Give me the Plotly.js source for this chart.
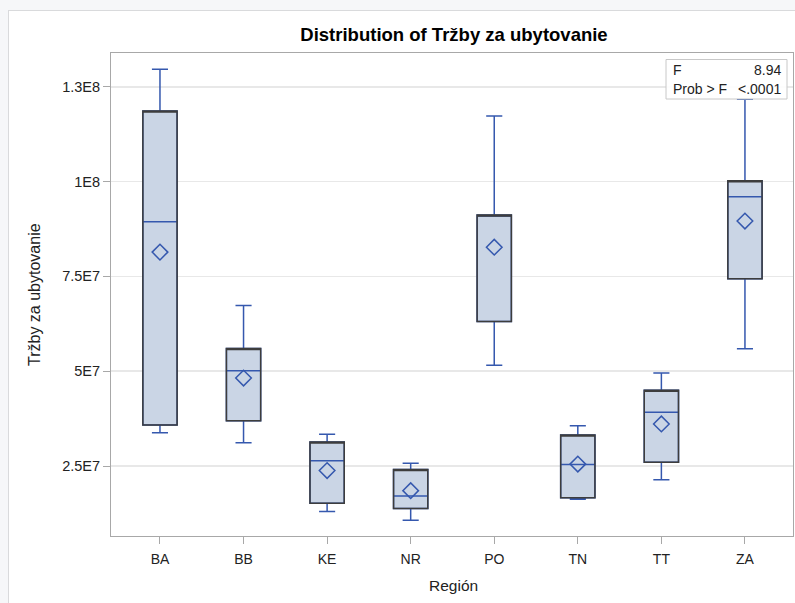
<!DOCTYPE html>
<html>
<head>
<meta charset="utf-8">
<script src="https://cdn.plot.ly/plotly-3.0.1.min.js"></script>
<style>
  html, body { margin: 0; padding: 0; background: #f6f7f9; }
  #panel { position: absolute; left: 8px; top: 10px; width: 787px; height: 593px; background: #ffffff; border-left: 1px solid #d9dadc; border-top: 1px solid #d9dadc; }
  #chart { position: absolute; left: 0; top: 0; width: 795px; height: 603px; }
</style>
</head>
<body>
<div id="panel"></div>
<div id="chart"></div>
<script>
// Data
const regions = ["BA", "BB", "KE", "NR", "PO", "TN", "TT", "ZA"];
const whiskerLow = [3.38e7, 3.11e7, 1.30e7, 1.07e7, 5.16e7, 1.62e7, 2.14e7, 5.59e7];
const q1Values = [3.58e7, 3.69e7, 1.52e7, 1.38e7, 6.31e7, 1.66e7, 2.60e7, 7.44e7];
const medianValues = [8.94e7, 5.01e7, 2.64e7, 1.71e7, 9.10e7, 2.54e7, 3.92e7, 9.60e7];
const q3Values = [1.186e8, 5.60e7, 3.13e7, 2.41e7, 9.12e7, 3.32e7, 4.50e7, 1.002e8];
const whiskerHigh = [1.296e8, 6.73e7, 3.34e7, 2.57e7, 1.173e8, 3.56e7, 4.95e7, 1.217e8];
const meanValues = [8.14e7, 4.82e7, 2.38e7, 1.85e7, 8.27e7, 2.55e7, 3.61e7, 8.96e7];

const yTickVals = [2.5e7, 5e7, 7.5e7, 1e8, 1.25e8];
const yTickText = ["2.5E7", "5E7", "7.5E7", "1E8", "1.3E8"];

const statLabels = ["F", "Prob > F"];
const statValues = ["8.94", "<.0001"];

const blue = "#3558ae";
const dark = "#3d3d3d";
const fill = "#cad5e5";

const traces = [
  {
    type: "box",
    x: regions,
    q1: q1Values,
    median: medianValues,
    q3: q3Values,
    lowerfence: whiskerLow,
    upperfence: whiskerHigh,
    fillcolor: fill,
    line: { color: blue, width: 1.5 },
    width: 0.41,
    whiskerwidth: 0.47,
    boxpoints: false,
    hoverinfo: "skip",
    showlegend: false
  },
  {
    type: "box",
    x: regions,
    q1: q1Values,
    median: q3Values,
    q3: q3Values,
    lowerfence: q1Values,
    upperfence: q3Values,
    fillcolor: "rgba(0,0,0,0)",
    line: { color: dark, width: 1.5 },
    width: 0.41,
    whiskerwidth: 0,
    boxpoints: false,
    hoverinfo: "skip",
    showlegend: false
  },
  {
    type: "scatter",
    mode: "markers",
    x: regions,
    y: meanValues,
    marker: { symbol: "diamond-open", size: 12, color: blue, line: { width: 1.5, color: blue } },
    hoverinfo: "skip",
    showlegend: false
  }
];

const font = "Arial, 'Liberation Sans', sans-serif";
const px = (p) => (p - 111) / 682;
const py = (p) => (536 - p) / 483;

const annotations = [
  { xref: "paper", yref: "paper", x: px(671), y: py(70), xanchor: "left", yanchor: "middle", text: statLabels[0], showarrow: false, font: { family: font, size: 14, color: "#222" } },
  { xref: "paper", yref: "paper", x: px(783), y: py(70), xanchor: "right", yanchor: "middle", text: statValues[0], showarrow: false, font: { family: font, size: 14, color: "#222" } },
  { xref: "paper", yref: "paper", x: px(671), y: py(88.5), xanchor: "left", yanchor: "middle", text: statLabels[1], showarrow: false, font: { family: font, size: 14, color: "#222" } },
  { xref: "paper", yref: "paper", x: px(783), y: py(88.5), xanchor: "right", yanchor: "middle", text: statValues[1], showarrow: false, font: { family: font, size: 14, color: "#222" } },
  { xref: "paper", yref: "paper", x: px(34), y: py(295), xanchor: "center", yanchor: "middle", textangle: -90, text: "Tržby za ubytovanie", showarrow: false, font: { family: font, size: 16, color: "#222" } },
  { xref: "paper", yref: "paper", x: px(453), y: py(585), xanchor: "center", yanchor: "middle", text: "Región", showarrow: false, font: { family: font, size: 15.5, color: "#222" } }
];

const shapes = [
  { type: "rect", xref: "paper", yref: "paper", x0: px(666), x1: px(787), y0: py(99), y1: py(59.5), line: { color: "#c8c8c8", width: 1 }, fillcolor: "rgba(255,255,255,0.9)", layer: "above" }
];

const layout = {
  width: 795,
  height: 603,
  margin: { l: 111, r: 2, t: 53, b: 67 },
  paper_bgcolor: "rgba(0,0,0,0)",
  plot_bgcolor: "#ffffff",
  boxmode: "overlay",
  title: { text: "<b>Distribution of Tržby za ubytovanie</b>", x: 454 / 795, xanchor: "center", y: 1 - 35 / 603, yanchor: "middle", font: { family: font, size: 18.5, color: "#000" } },
  xaxis: {
    type: "category",
    categoryorder: "array",
    categoryarray: regions,
    range: [-0.586, 7.575],
    showline: true, linecolor: "#a8a8a8", linewidth: 1, mirror: true,
    ticks: "outside", ticklen: 7, tickcolor: "#a8a8a8",
    ticklabelstandoff: 3,
    showgrid: false, zeroline: false,
    tickfont: { family: font, size: 14, color: "#222" }
  },
  yaxis: {
    range: [6.54e6, 1.3391e8],
    tickvals: yTickVals,
    ticktext: yTickText,
    showline: true, linecolor: "#a8a8a8", linewidth: 1, mirror: true,
    ticks: "outside", ticklen: 7, tickcolor: "#a8a8a8",
    showgrid: true, gridcolor: "#e8e8e8", gridwidth: 1.5, zeroline: false,
    tickfont: { family: font, size: 14.5, color: "#222" }
  },
  annotations: annotations,
  shapes: shapes,
  hovermode: false
};

Plotly.newPlot("chart", traces, layout, { displayModeBar: false, staticPlot: true });
</script>
</body>
</html>
